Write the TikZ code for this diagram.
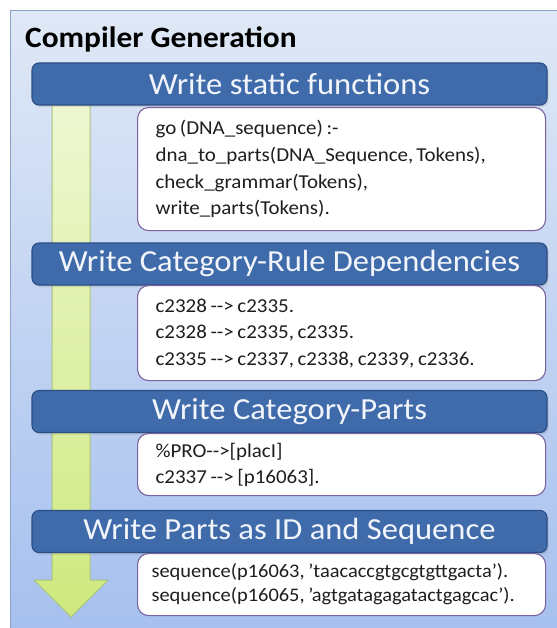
\documentclass[tikz,border=0pt]{standalone}
\usepackage{fontspec}
\setmainfont{Carlito}[FakeStretch=1.064]
\usetikzlibrary{shadows}
\definecolor{panelTop}{HTML}{DFE8F6}
\definecolor{panelBot}{HTML}{A6C0EE}
\definecolor{panelEdge}{HTML}{8AA2C6}
\definecolor{barFill}{HTML}{3F6BAB}
\definecolor{barEdge}{HTML}{2B4E85}
\definecolor{barText}{HTML}{F2F5FB}
\definecolor{boxEdge}{HTML}{7A62A0}
\definecolor{arrowTop}{HTML}{EEF7D2}
\definecolor{arrowBot}{HTML}{CFE97E}
\definecolor{arrowEdge}{HTML}{A9C277}
\definecolor{inkText}{HTML}{1E1E1E}
\newcommand{\sq}{\char"27\relax}
\protected\def\codeset#1#2{\fontsize{#1}{#2}\selectfont\spaceskip=3.6pt plus 1pt minus 0.6pt\relax}
\tikzset{
  stagebar/.style={draw=barEdge, line width=1.1pt, fill=barFill, rounded corners=7pt,
    minimum width=515pt, minimum height=42pt, inner sep=0pt, text=barText,
    font=\fontsize{30.6}{33}\selectfont,
    drop shadow={shadow xshift=1.5pt, shadow yshift=-2pt, opacity=0.25}},
  codebox/.style={draw=boxEdge, line width=1.1pt, fill=white, rounded corners=11pt,
    minimum width=408pt, text width=372pt, align=flush left, inner xsep=18pt, inner ysep=0pt,
    text=inkText, anchor=north west, font={\codeset{19.7}{#1}}},
}
\begin{document}
\begin{tikzpicture}[x=1pt, y=-1pt]
  \useasboundingbox (0,0) rectangle (556,628);
  % background panel
  \fill[white] (0,0) rectangle (556,628);
  \path[draw=panelEdge, line width=1pt, top color=panelTop, bottom color=panelBot]
    (10,11) rectangle (560,632);
  \node[anchor=base west, font=\fontsize{29.5}{32}\selectfont\bfseries, text=black, inner sep=0pt]
    (title) at (25,48) {Compiler Generation};

  % flow arrow running down the left side
  \path[draw=arrowEdge, line width=1pt, top color=arrowTop, bottom color=arrowBot]
    (52,100) -- (90,100) -- (90,580) -- (108,580) -- (71,617) -- (34,580) -- (52,580) -- cycle;

  % stage 1
  \node[stagebar] (bar1) at (289.5,84) {Write static functions};
  \node[codebox=26.8, minimum height=123pt] (box1) at (137,107)
    {go (DNA\_sequence) :-\\
     dna\_to\_parts(DNA\_Sequence,\kern3pt Tokens),\\
     check\_grammar(Tokens),\\
     write\_parts(Tokens).};

  % stage 2
  \node[stagebar] (bar2) at (289.5,264) {Write Category-Rule Dependencies};
  \node[codebox=26.5, minimum height=95pt] (box2) at (137,285)
    {c2328 -{}-> c2335.\\
     c2328 -{}-> c2335, c2335.\\
     c2335 -{}-> c2337, c2338, c2339, c2336.};

  % stage 3
  \node[stagebar] (bar3) at (289.5,411.5) {Write Category-Parts};
  \node[codebox=26, minimum height=62pt] (box3) at (137,433)
    {\%PRO-{}->[placI]\\
     c2337 -{}-> [p16063].};

  % stage 4
  \node[stagebar] (bar4) at (289.5,531.5) {Write Parts as ID and Sequence};
  \node[codebox, font={\codeset{19.2}{24}}, text width=380pt, inner xsep=14pt,
        minimum height=62pt] (box4) at (137,553)
    {sequence(p16063, \sq taacaccgtgcgtgttgacta\sq).\\
     sequence(p16065, \sq agtgatagagatactgagcac\sq).};
\end{tikzpicture}
\end{document}
